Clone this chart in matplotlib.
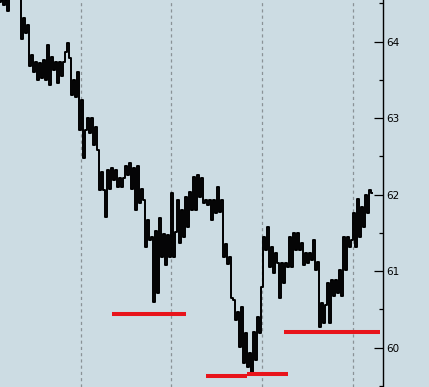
import matplotlib.pyplot as plt
from matplotlib.ticker import MultipleLocator

# price path, one value per step (zigzag of highs / lows)
prices = [
    64.52, 64.55, 64.48, 64.55, 64.40, 64.65, 64.65, 64.65, 64.65, 64.65,
    64.60, 64.04, 64.31, 64.11, 64.22, 63.68, 63.83, 63.60, 63.73, 63.50,
    63.72, 63.53, 63.76, 63.50, 63.96, 63.43, 63.80, 63.63, 63.73, 63.46,
    63.73, 63.55, 63.73, 63.87, 63.98, 63.79, 63.30, 63.50, 63.28, 63.60,
    62.85, 63.24, 62.48, 62.85, 63.00, 62.80, 63.00, 62.65, 62.89, 62.58,
    62.06, 62.30, 62.06, 61.71, 62.32, 62.08, 62.35, 62.19, 62.32, 62.10,
    62.22, 62.10, 62.22, 62.38, 62.26, 62.41, 62.08, 62.35, 61.80, 62.38,
    61.89, 62.08, 61.93, 61.31, 61.67, 61.41, 61.45, 60.60, 61.53, 60.71,
    61.69, 61.18, 61.49, 61.08, 61.47, 61.18, 62.02, 61.18, 61.51, 61.93,
    61.37, 61.80, 61.45, 61.97, 61.58, 62.03, 61.80, 62.23, 61.80, 62.26,
    61.97, 62.22, 61.89, 61.93, 61.87, 61.93, 61.67, 61.93, 61.76, 62.10,
    61.77, 61.93, 61.18, 61.36, 61.10, 61.18, 60.65, 60.62, 60.36, 60.47,
    60.01, 60.53, 59.80, 60.19, 59.75, 59.93, 59.67, 60.20, 59.84, 60.40,
    60.19, 60.79, 61.45, 61.28, 61.58, 61.05, 61.32, 60.97, 61.24, 61.11,
    60.65, 61.11, 60.85, 61.11, 61.05, 61.45, 61.05, 61.50, 61.28, 61.50,
    61.28, 61.37, 61.08, 61.24, 61.11, 61.24, 61.15, 61.41, 61.02, 61.12,
    60.27, 60.58, 60.32, 60.56, 60.85, 60.32, 60.89, 60.67, 60.89, 60.71,
    61.02, 60.67, 61.45, 61.02, 61.45, 61.32, 61.41, 61.76, 61.32, 61.95,
    61.45, 61.84, 61.58, 62.00, 61.76, 62.06, 62.02,
]
steps = list(range(len(prices)))

# period separators (vertical dotted lines)
period_marks = [40.25, 85.5, 131, 176.5]

# support levels drawn in red: (start, end, level)
support_start = [56, 103, 123.4, 142]
support_end = [93, 123.4, 144, 190]
support_level = [60.44, 59.63, 59.66, 60.20]

bg = "#ccdce3"
fig = plt.figure(figsize=(4.29, 3.87), dpi=100, facecolor=bg)
ax = fig.add_axes([0, 0, 382.7 / 429, 1])
ax.set_facecolor(bg)

for xm in period_marks:
    ax.axvline(xm, color="#8a9296", lw=0.9, ls=(0, (2.5, 2.5)), zorder=1)

ax.plot(steps, prices, color="black", lw=1.4, drawstyle="steps-mid", zorder=3)

for s, e, lv in zip(support_start, support_end, support_level):
    ax.plot([s, e], [lv, lv], color="#e8141b", lw=2.9, solid_capstyle="butt", zorder=4)

ax.set_xlim(0, 191.35)
ax.set_ylim(59.486, 64.545)

for side in ["left", "top", "bottom"]:
    ax.spines[side].set_visible(False)
ax.spines["right"].set_linewidth(1.0)

ax.set_xticks([])
ax.yaxis.tick_right()
ax.yaxis.set_major_locator(MultipleLocator(1))
ax.yaxis.set_minor_locator(MultipleLocator(0.5))
ax.tick_params(axis="y", which="major", direction="in", length=6.5, width=0.9,
               pad=2.5, labelsize=7.5, colors="black")
ax.tick_params(axis="y", which="minor", direction="in", length=3, width=0.9)

fig.savefig("out.png", dpi=100, facecolor=bg)
